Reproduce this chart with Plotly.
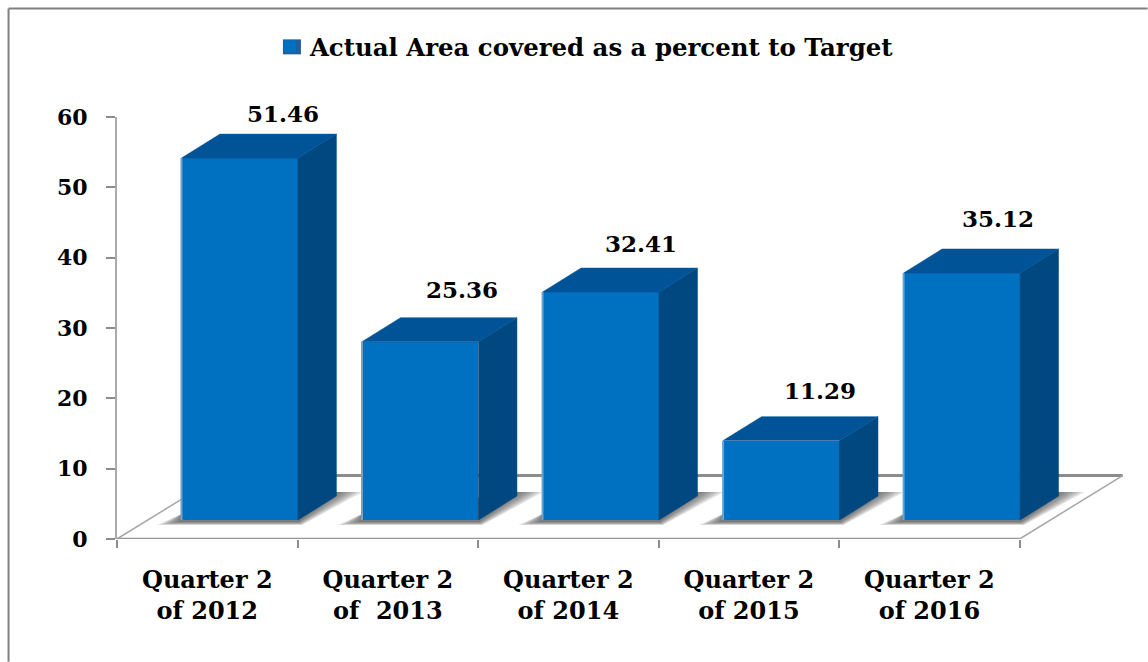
import plotly.graph_objects as go

categories = ["Quarter 2<br>of 2012", "Quarter 2<br>of  2013", "Quarter 2<br>of 2014", "Quarter 2<br>of 2015", "Quarter 2<br>of 2016"]
values = [51.46, 25.36, 32.41, 11.29, 35.12]
value_labels = ["51.46", "25.36", "32.41", "11.29", "35.12"]
y_ticks = [0, 10, 20, 30, 40, 50, 60]
series_name = "Actual Area covered as a percent to Target"

# layout constants (pixels of the frame)
L, T, SLOT, UNIT = 117, 116.7, 180.6, 7.04
XMAX = 5.65
PW = XMAX * SLOT
PH = 60 * UNIT
R = 1148 - L - PW
B = 662 - T - PH

# pseudo-3D geometry, in axis units
FLOOR_DX, FLOOR_DY = 103 / SLOT, 63.5 / UNIT
BASE = 19 / UNIT
BAR_OFF, BAR_W = 64.5 / SLOT, 116.5 / SLOT
DX, DY = 38.5 / SLOT, 24 / UNIT
px, py = 1 / SLOT, 1 / UNIT

FRONT, SIDE, TOP = "#0070C0", "#00487F", "#005396"
label_dx = [43, 42, 40, 39, 36]
label_dy = [21, 28, 25, 26, 31]

n = len(values)
lefts = [i + BAR_OFF for i in range(n)]
rights = [a + BAR_W for a in lefts]
mids = [a + BAR_W / 2 for a in lefts]
tops = [BASE + v for v in values]

def path(pts):
    return "M" + " L".join(f"{x},{y}" for x, y in pts) + " Z"

shapes = []
# floor
floor = [(0, 0), (FLOOR_DX, FLOOR_DY), (n + FLOOR_DX, FLOOR_DY), (n, 0)]
shapes.append(dict(type="line", xref="x", yref="y", x0=floor[1][0], y0=floor[1][1], x1=floor[2][0], y1=floor[2][1],
                   line=dict(color="#8c8c8c", width=3), layer="below"))
for a, b in ((floor[0], floor[1]), (floor[3], floor[2])):
    shapes.append(dict(type="line", xref="x", yref="y", x0=a[0], y0=a[1], x1=b[0], y1=b[1],
                       line=dict(color="#a6a6a6", width=1.5), layer="below"))
# soft floor shadows, layered
for a, b in zip(lefts, rights):
    for k, grow in enumerate((1.0, 0.85, 0.7, 0.55, 0.4, 0.25, 0.12)):
        low = BASE - 5 * (0.3 + 0.7 * grow) * py
        pts = [
            (a - 24 * grow * px, low),
            (b + 4 * grow * px, low),
            (b + DX + 26 * grow * px, BASE + DY + 4 * py),
            (b + DX, BASE + DY + 4 * py),
            (a, BASE + 6 * py),
        ]
        shapes.append(dict(type="path", xref="x", yref="y", path=path(pts),
                           fillcolor="rgba(80,80,80,0.17)", line=dict(width=0), layer="below"))

# frame
frame_l = (8.5 - L) / PW
frame_t = 1 + (T - 8) / PH
shapes.append(dict(type="line", xref="paper", yref="paper", x0=frame_l, x1=(1148 - L) / PW, y0=frame_t, y1=frame_t,
                   line=dict(color="#808080", width=2)))
shapes.append(dict(type="line", xref="paper", yref="paper", x0=frame_l, x1=frame_l, y0=frame_t, y1=-B / PH,
                   line=dict(color="#808080", width=2)))
# baseline of the x axis
shapes.append(dict(type="line", xref="x", yref="y", x0=0, x1=n, y0=0, y1=0,
                   line=dict(color="#969696", width=2.5), layer="below"))
# larger legend swatch backing
shapes.append(dict(type="rect", xref="paper", yref="paper", x0=(283 - L) / PW, x1=(301 - L) / PW,
                   y0=1 + (T - 54) / PH, y1=1 + (T - 39) / PH, fillcolor="#1F5F9A", line=dict(width=0)))

fig = go.Figure()
fig.add_trace(go.Bar(x=mids, y=values, base=[BASE] * n, width=BAR_W, name=series_name,
                     marker=dict(color=FRONT, line=dict(width=0)), showlegend=True,
                     hoverinfo="skip"))

def poly(xs, ys, color):
    fig.add_trace(go.Scatter(x=xs, y=ys, mode="lines", fill="toself", fillcolor=color,
                             line=dict(color=color, width=0.5), showlegend=False, hoverinfo="skip"))

for a, b, t in zip(lefts, rights, tops):
    # side face
    poly([b, b + DX, b + DX, b, b], [BASE, BASE + DY, t + DY, t, BASE], SIDE)
    # top face
    poly([a, a + DX, b + DX, b, a], [t, t + DY, t + DY, t, t], TOP)
    # light left edge of the front face
    fig.add_trace(go.Scatter(x=[a, a], y=[BASE, t], mode="lines", line=dict(color="#6FA3CE", width=2),
                             showlegend=False, hoverinfo="skip"))

annotations = [
    dict(x=m + DX / 2, y=t + DY, xref="x", yref="y", text=s, showarrow=False,
         xshift=dxp - 38.5 / 2, yshift=dyp, xanchor="center", yanchor="middle",
         font=dict(family="DejaVu Serif", size=23, color="#000000", weight="bold"))
    for m, t, s, dxp, dyp in zip(mids, tops, value_labels, label_dx, label_dy)
]

fig.update_layout(
    width=1148, height=662, margin=dict(l=L, r=R, t=T, b=B, autoexpand=False),
    paper_bgcolor="white", plot_bgcolor="white",
    font=dict(family="DejaVu Serif", color="#000000"),
    shapes=shapes, annotations=annotations, bargap=0,
    legend=dict(x=(270 - L) / PW, y=1 + (T - 23.5) / PH, xanchor="left", yanchor="top",
                orientation="h", font=dict(family="DejaVu Serif", size=24.4, weight="bold"),
                bgcolor="rgba(0,0,0,0)", itemclick=False, itemdoubleclick=False, itemwidth=30),
    xaxis=dict(range=[0, XMAX], tickvals=[i + 0.5 for i in range(n)], ticktext=categories,
               ticks="", showgrid=False, zeroline=False, showline=False, ticklabelstandoff=24,
               tickfont=dict(family="DejaVu Serif", size=24, weight="bold"),
               minor=dict(tickvals=list(range(n + 1)), ticks="outside", ticklen=8, tickwidth=1.5,
                          tickcolor="#8c8c8c", showgrid=False)),
    yaxis=dict(range=[0, 60], tickvals=y_ticks, ticks="outside", ticklen=9, tickwidth=2, tickcolor="#8c8c8c",
               showline=True, linecolor="#aaaaaa", linewidth=2, showgrid=False, zeroline=False,
               ticklabelstandoff=14, tickfont=dict(family="DejaVu Serif", size=22, weight="bold")),
)

fig.write_html("out.html", config=dict(displayModeBar=False),
               post_script="document.body.style.margin='0';document.body.style.overflow='hidden';")
